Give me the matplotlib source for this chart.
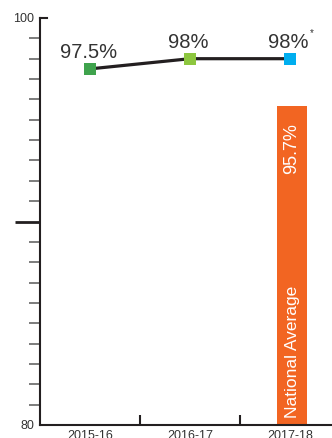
import matplotlib
matplotlib.use("Agg")
import matplotlib.pyplot as plt

# data
years = ["2015-16", "2016-17", "2017-18"]
rates = [97.5, 98, 98]
rate_labels = ["97.5%", "98%", "98%"]
marker_colors = ["#3fa34d", "#8dc63f", "#00aeef"]
national_avg = 95.7
national_label = "95.7%"

plt.rcParams["font.family"] = ["Liberation Sans", "DejaVu Sans"]
text_color = "#333333"

fig = plt.figure(figsize=(3.32, 4.39), dpi=100)
ax = fig.add_axes([40 / 332, 13 / 439, 292 / 332, 407 / 439])
ax.set_xlim(-0.5, 2.42)
ax.set_ylim(80, 100)

# national average bar
ax.bar(2.02, national_avg - 80, bottom=80, width=0.3, color="#f26522", zorder=1)
ax.annotate(national_label, (2.02, national_avg), xytext=(0, -12), textcoords="offset points",
            rotation=90, ha="center", va="top", color="white", fontsize=13)
ax.annotate("National Average", (2.02, 80), xytext=(0, 6), textcoords="offset points",
            rotation=90, ha="center", va="bottom", color="white", fontsize=12.5)

# line with coloured square markers
x = list(range(len(years)))
ax.plot(x, rates, color="#231f20", lw=2.3, zorder=2)
ax.scatter(x, rates, marker="s", s=75, c=marker_colors, zorder=3, linewidths=0)
for xi, r, lab in zip(x, rates, rate_labels):
    ax.annotate(lab, (xi, r), xytext=(-1, 8.5), textcoords="offset points",
                ha="center", va="baseline", fontsize=14.5, color=text_color)
ax.annotate("*", (x[-1], rates[-1]), xytext=(16, 17), textcoords="offset points",
            ha="center", va="baseline", fontsize=7, color=text_color)

# spines
for side in ["top", "right"]:
    ax.spines[side].set_visible(False)
for side in ["left", "bottom"]:
    ax.spines[side].set_linewidth(1.5)
    ax.spines[side].set_color("#231f20")

# y ticks: long one at 90, short ones every unit
ax.set_yticks([90])
ax.set_yticklabels([""])
ax.set_yticks([v for v in range(81, 100) if v != 90], minor=True)
ax.tick_params(axis="y", which="major", length=18, width=2, color="#231f20")
ax.tick_params(axis="y", which="minor", length=8, width=1.2, color="#666666")
ytr = ax.get_yaxis_transform()
for v in [80, 100]:
    ax.annotate(str(v), (0, v), xycoords=ytr, xytext=(-4, 0), textcoords="offset points",
                ha="right", va="center", fontsize=9, color=text_color)
ax.plot([0, 0.025], [100, 100], transform=ytr, color="#231f20", lw=1.5, clip_on=False)

# x ticks: labels at categories, marks between them
ax.set_xticks(x)
ax.set_xticklabels(years, fontsize=9, color=text_color)
ax.tick_params(axis="x", which="major", length=0, pad=3)
ax.set_xticks([0.5, 1.5], minor=True)
ax.tick_params(axis="x", which="minor", direction="in", length=7.5, width=1.5, color="#231f20")

fig.savefig("out.png", dpi=100)
